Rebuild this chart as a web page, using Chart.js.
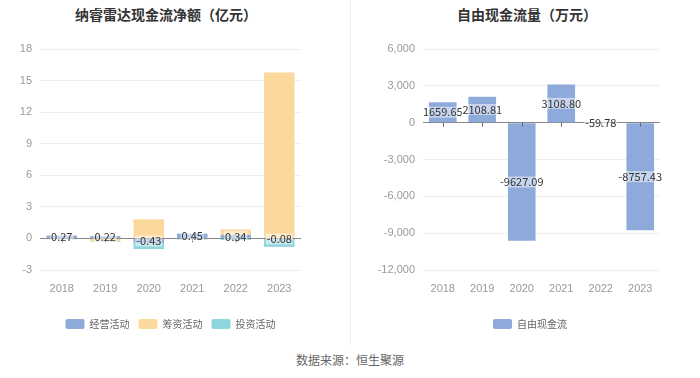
<!DOCTYPE html>
<html>
<head>
<meta charset="utf-8">
<script src="https://cdn.jsdelivr.net/npm/chart.js@4/dist/chart.umd.min.js"></script>
<style>
  body { margin: 0; background: #fff; font-family: "Noto Sans CJK SC", sans-serif; }
  #wrap { position: relative; width: 700px; height: 378px; overflow: hidden; }
  .title { position: absolute; top: 4px; font-size: 14px; font-weight: bold; color: #333; text-align: center; }
  .box { position: absolute; top: 0; width: 350px; height: 340px; }
  #sep { position: absolute; left: 350px; top: 0; width: 1px; height: 345px; background: #f0f0f0; }
  #source { position: absolute; top: 351px; left: 0; width: 700px; text-align: center; font-size: 12px; color: #666; }
</style>
</head>
<body>
<div id="wrap">
  <div class="title" style="left:0;width:332px;">纳睿雷达现金流净额（亿元）</div>
  <div class="title" style="left:354px;width:346px;">自由现金流量（万元）</div>
  <div class="box" style="left:0;"><canvas id="left" width="350" height="340"></canvas></div>
  <div id="sep"></div>
  <div class="box" style="left:350px;"><canvas id="right" width="350" height="340"></canvas></div>
  <div id="source">数据来源：恒生聚源</div>
</div>
<script>
const years = ['2018', '2019', '2020', '2021', '2022', '2023'];
const operating = [0.27, 0.22, -0.43, 0.45, 0.34, -0.08];
const financing = [0.02, -0.25, 1.82, 0.0, 0.52, 15.77];
const investing = [-0.08, -0.05, -0.58, -0.1, -0.15, -0.72];
const freeCash = [1659.65, 2108.81, -9627.09, 3108.80, -59.78, -8757.43];
const freeLabels = ['1659.65', '2108.81', '-9627.09', '3108.80', '-59.78', '-8757.43'];

// label in the middle of the first dataset's bars, plus small ticks on the zero line
function labelPlugin(texts, legendShift) {
    return {
        id: 'barLabels',
        afterLayout(chart) {
            // legend in the reference sits a bit right of the plot centre
            chart.legend.left += legendShift;
            chart.legend.right += legendShift;
        },
        afterDatasetsDraw(chart) {
            const ctx = chart.ctx;
            const meta = chart.getDatasetMeta(0);
            const zero = chart.scales.y.getPixelForValue(0);
            ctx.save();
            ctx.strokeStyle = '#666';
            ctx.lineWidth = 1;
            meta.data.forEach(bar => {
                ctx.beginPath();
                ctx.moveTo(Math.round(bar.x) + 0.5, zero);
                ctx.lineTo(Math.round(bar.x) + 0.5, zero + 4);
                ctx.stroke();
            });
            ctx.font = '11px "Noto Sans CJK SC", sans-serif';
            ctx.textAlign = 'center';
            ctx.textBaseline = 'middle';
            meta.data.forEach((bar, i) => {
                const p = bar.getProps(['x', 'y', 'base'], true);
                const cy = (p.y + p.base) / 2;
                const w = ctx.measureText(texts[i]).width;
                ctx.fillStyle = 'rgba(255,255,255,0.5)';
                ctx.fillRect(p.x - w / 2 - 1, cy - 5.5, w + 2, 11);
                ctx.fillStyle = '#333';
                ctx.fillText(texts[i], p.x, cy);
            });
            ctx.restore();
        }
    };
}

function gridColor(c) {
    return c.tick.value === 0 ? '#888' : '#eeeeee';
}

function makeOptions(min, max, step, yWidth, padRight, fmt) {
    return {
        responsive: false,
        animation: false,
        layout: { padding: { top: 49, right: padRight, left: 0, bottom: 1 } },
        plugins: {
            tooltip: { enabled: false },
            legend: {
                position: 'bottom',
                labels: {
                    boxWidth: 19, boxHeight: 10, padding: 9,
                    useBorderRadius: true, borderRadius: 2,
                    color: '#666',
                    font: { size: 10, family: '"Noto Sans CJK SC", sans-serif' }
                }
            }
        },
        scales: {
            x: {
                stacked: true,
                grid: { display: false },
                border: { display: false },
                ticks: { color: '#999', font: { size: 11 }, padding: 4 },
                afterFit(scale) { scale.height = 40; }
            },
            y: {
                stacked: true,
                min: min, max: max,
                border: { display: false },
                grid: { color: gridColor, drawTicks: false },
                ticks: { stepSize: step, color: '#999', font: { size: 11 }, padding: 8, callback: fmt },
                afterFit(scale) { scale.width = yWidth; }
            }
        }
    };
}

new Chart(document.getElementById('left'), {
    type: 'bar',
    data: {
        labels: years,
        datasets: [
            { label: '经营活动', data: operating, backgroundColor: '#8daadb', barPercentage: 0.7, categoryPercentage: 1 },
            { label: '筹资活动', data: financing, backgroundColor: '#fdd89d', barPercentage: 0.7, categoryPercentage: 1 },
            { label: '投资活动', data: investing, backgroundColor: '#8fd5dc', barPercentage: 0.7, categoryPercentage: 1 }
        ]
    },
    options: makeOptions(-3, 18, 3, 40, 49, v => v),
    plugins: [labelPlugin(operating.map(v => v.toFixed(2)), 20)]
});

new Chart(document.getElementById('right'), {
    type: 'bar',
    data: {
        labels: years,
        datasets: [
            { label: '自由现金流', data: freeCash, backgroundColor: '#8daadb', barPercentage: 0.7, categoryPercentage: 1 }
        ]
    },
    options: makeOptions(-12000, 6000, 3000, 73, 40, v => v.toLocaleString('en-US')),
    plugins: [labelPlugin(freeLabels, 25)]
});
</script>
</body>
</html>
